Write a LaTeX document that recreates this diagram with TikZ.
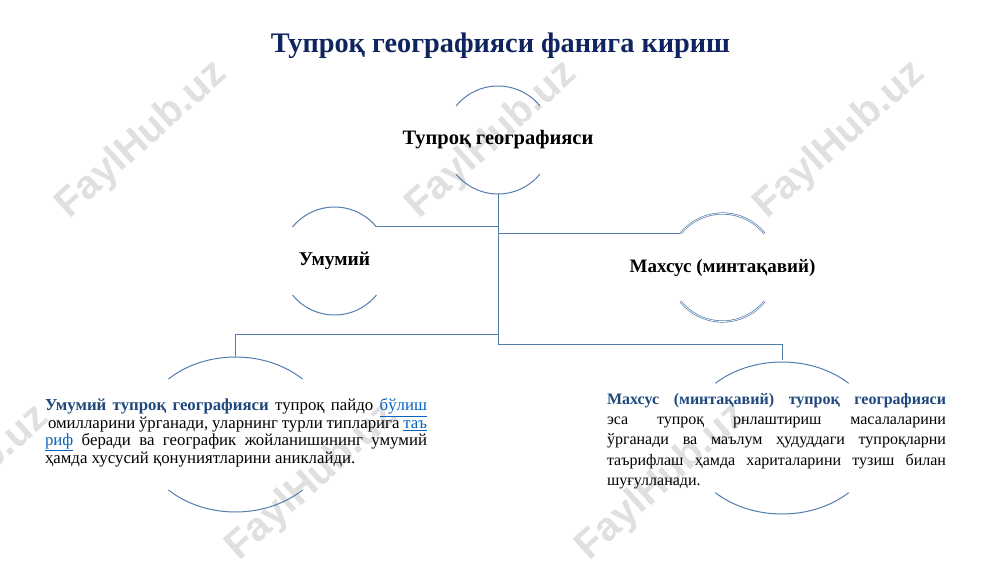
\documentclass[tikz,border=0pt]{standalone}
\usepackage{fontspec}
\setmainfont{Liberation Serif}
\newfontfamily\wmfont{Liberation Sans}
\usetikzlibrary{shapes.geometric,calc}
\definecolor{linec}{RGB}{84,125,174}
\definecolor{titlec}{RGB}{16,37,96}
\definecolor{leadc}{RGB}{31,73,125}
\definecolor{linkc}{RGB}{5,99,193}
\definecolor{wmc}{RGB}{224,224,224}
\newcommand{\lnk}[1]{\textcolor{linkc}{\underline{#1}}}
\begin{document}
\begin{tikzpicture}[x=1pt,y=1pt,
  conn/.style={draw=linec, line width=1pt},
  arcline/.style={draw=linec, line width=1pt},
  arcdouble/.style={draw=linec, line width=0.7pt, double=white, double distance=0.7pt},
  hub/.style={circle, minimum size=108pt, inner sep=0pt},
  leaf/.style={ellipse, minimum width=192pt, minimum height=155pt, inner sep=0pt},
  lbl/.style={font=\fontsize{20.5}{24}\selectfont\bfseries, text=black, inner sep=0pt},
  wm/.style={font=\wmfont\bfseries\fontsize{40}{44}\selectfont, text=wmc, rotate=42}]
\useasboundingbox (0,0) rectangle (1000,-562);
\fill[white] (0,0) rectangle (1000,-562);
\begin{scope}
\clip (0,0) rectangle (1000,-562);
\node[wm] (w1) at (142,-140) {FaylHub.uz};
\node[wm] (w2) at (492,-140) {FaylHub.uz};
\node[wm] (w3) at (840,-140) {FaylHub.uz};
\node[wm] (w4) at (-36,-484) {FaylHub.uz};
\node[wm] (w5) at (312,-482) {FaylHub.uz};
\node[wm] (w6) at (662,-482) {FaylHub.uz};
\end{scope}

\node[font=\fontsize{28.3}{34}\selectfont\bfseries, text=titlec] (title) at (500.5,-46) {Тупроқ географияси фанига кириш};

% hubs
\node[hub] (top) at (498,-140) {};
\node[lbl] (toptext) at (top.center) {Тупроқ географияси};
\node[hub] (um) at (334.5,-261) {};
\node[lbl, font=\fontsize{19.5}{24}\selectfont\bfseries] (umtext) at (um.center) {Умумий};
\node[hub] (mx) at (722.5,-267.5) {};
\node[lbl, font=\fontsize{19}{24}\selectfont\bfseries] (mxtext) at (mx.center) {Махсус (минтақавий)};
\node[leaf] (lb) at (235.5,-434.5) {};
\node[leaf] (rb) at (782,-438) {};

\node[inner sep=0pt] (lbtext) at (236,-433) {\begin{minipage}{382pt}\fontsize{16.8}{16.7}\selectfont\noindent
\textcolor{leadc}{\textbf{Умумий тупроқ географияси}} тупроқ пайдо \lnk{бўлиш}\linebreak
\hspace*{3pt}омилларини ўрганади, уларнинг турли типларига \lnk{таъ}\linebreak
\lnk{риф} беради ва географик жойланишининг умумий\linebreak
ҳамда хусусий қонуниятларини аниклайди.\end{minipage}};

\node[inner sep=0pt] (rbtext) at (776.5,-441) {\begin{minipage}{339pt}\fontsize{16}{20.2}\selectfont\noindent
\textcolor{leadc}{\textbf{Махсус (минтақавий) тупроқ географияси}}\linebreak
эса тупроқ рнлаштириш масалаларини\linebreak
ўрганади ва маълум ҳудуддаги тупроқларни\linebreak
таърифлаш ҳамда хариталарини тузиш билан\linebreak
шуғулланади.\end{minipage}};

% arcs
\draw[arcline] ([shift={(39:54pt)}]top.center) arc[start angle=39, end angle=141, radius=54pt];
\draw[arcline] ([shift={(-141:54pt)}]top.center) arc[start angle=-141, end angle=-39, radius=54pt];
\draw[arcline] ([shift={(39:54pt)}]um.center) arc[start angle=39, end angle=141, radius=54pt];
\draw[arcline] ([shift={(-141:54pt)}]um.center) arc[start angle=-141, end angle=-39, radius=54pt];
\draw[arcdouble] ([shift={(39:54pt)}]mx.center) arc[start angle=39, end angle=141, radius=54pt];
\draw[arcdouble] ([shift={(-141:54pt)}]mx.center) arc[start angle=-141, end angle=-39, radius=54pt];
\draw[arcline] ([shift={(45.7:96pt and 77.5pt)}]lb.center) arc[start angle=45.7, end angle=134.3, x radius=96pt, y radius=77.5pt];
\draw[arcline] ([shift={(-134.3:96pt and 77.5pt)}]lb.center) arc[start angle=-134.3, end angle=-45.7, x radius=96pt, y radius=77.5pt];
\draw[arcline] ([shift={(46:96pt and 76pt)}]rb.center) arc[start angle=46, end angle=134, x radius=96pt, y radius=76pt];
\draw[arcline] ([shift={(-134:96pt and 76pt)}]rb.center) arc[start angle=-134, end angle=-46, x radius=96pt, y radius=76pt];

% connectors
\coordinate (jl) at (498,-334.5);
\coordinate (jr) at (498,-344);
\draw[conn] (top.south) -- (jr) -| (rb.north);
\draw[conn] (jl) -| (lb.north);
\draw[conn] (um.39) -- (um.39 -| top.south);
\draw[conn] (mx.141) -- (mx.141 -| top.south);
\end{tikzpicture}
\end{document}
